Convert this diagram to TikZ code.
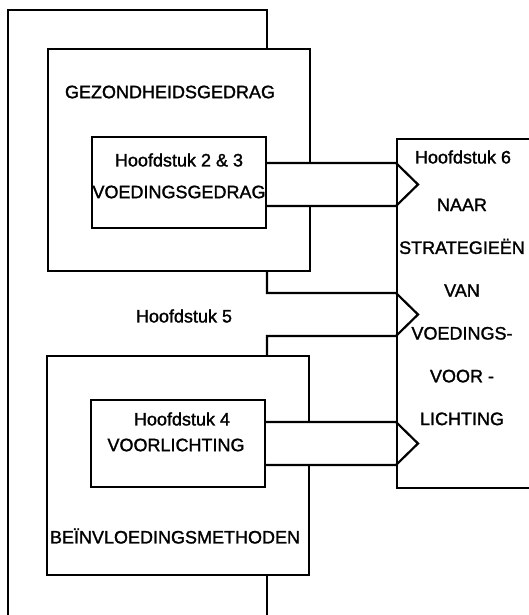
\documentclass[tikz,border=0pt]{standalone}
\usepackage{fontspec}
\setmainfont[FakeBold=1.5,AutoFakeBold=1.5]{Liberation Sans}
\usetikzlibrary{positioning}

\begin{document}
\begin{tikzpicture}[
  x=1pt, y=-1pt,
  line width=2.2pt, line join=miter,
  area/.style={rectangle, minimum width=260pt, inner sep=0pt},
  inbox/.style={rectangle, draw, minimum width=174pt, inner sep=0pt},
  txt/.style={font=\fontsize{18}{20}\selectfont, inner sep=0pt},
]
  \useasboundingbox (0,0) rectangle (529,615);
  \clip (0,0) rectangle (529,615);

  \node[area, minimum height=220pt] (gezond) at (179,160) {};
  \node[inbox, minimum height=91pt] (voeding) at (179,182.5) {};
  \node[area, minimum height=217pt] (beinv) at (178,465.5) {};
  \node[inbox, minimum height=87pt] (voorl) at (178,443.5) {};
  \node[rectangle, draw, anchor=north west, inner sep=0pt, minimum width=250pt, minimum height=349pt] (doel) at (396,138) {};

  \coordinate (k1a) at ([yshift=19.5pt]voeding.east);
  \coordinate (k1b) at ([yshift=-23.5pt]voeding.east);
  \coordinate (k2a) at (267,293);
  \coordinate (k2b) at (267,336);
  \coordinate (k3a) at ([yshift=21.5pt]voorl.east);
  \coordinate (k3b) at ([yshift=-21.5pt]voorl.east);
  \coordinate (k5) at (8,10);
  \coordinate (k5o) at (8,620);

  % kaders met opening voor de kanalen
  \draw (k1a -| gezond.east) -- (gezond.north east) -- (gezond.north west) -- (gezond.south west) -- (gezond.south east) -- (k1b -| gezond.east);
  \draw (k3a -| beinv.east) -- (beinv.north east) -- (beinv.north west) -- (beinv.south west) -- (beinv.south east) -- (k3b -| beinv.east);
  \draw (gezond.north -| k2a) |- (k5) -- (k5o);
  \draw (beinv.south -| k2a) -- (k2a |- k5o);

  % kanalen naar hoofdstuk 6
  \draw (k1a) -- (k1a -| doel.west) -- ++(22,21.5) -- (k1b -| doel.west) -- (k1b);
  \draw (gezond.south -| k2a) -- (k2a) -- (k2a -| doel.west) -- ++(22,21.5) -- (k2b -| doel.west) -- (k2b) -- (beinv.north -| k2b);
  \draw (k3a) -- (k3a -| doel.west) -- ++(22,21.5) -- (k3b -| doel.west) -- (k3b);

  \node[txt] (t-gezond) at (170,92) {GEZONDHEIDSGEDRAG};
  \node[txt] (t-h23) at (179,160) {Hoofdstuk 2 \& 3};
  \node[txt] (t-voedgedr) at (179,192) {VOEDINGSGEDRAG};
  \node[txt] (t-h5) at (184,316) {Hoofdstuk 5};
  \node[txt] (t-h4) at (182,419) {Hoofdstuk 4};
  \node[txt] (t-voorl) at (176,445) {VOORLICHTING};
  \node[txt] (t-beinv) at (175,536) {BEÏNVLOEDINGSMETHODEN};
  \node[txt] (t-h6) at (463,157) {Hoofdstuk 6};
  \node[txt, align=center, font=\fontsize{18}{42.8}\selectfont] (t-doel) at (462,312) {NAAR\\STRATEGIEËN\\VAN\\VOEDINGS-\\VOOR -\\LICHTING};
\end{tikzpicture}
\end{document}
